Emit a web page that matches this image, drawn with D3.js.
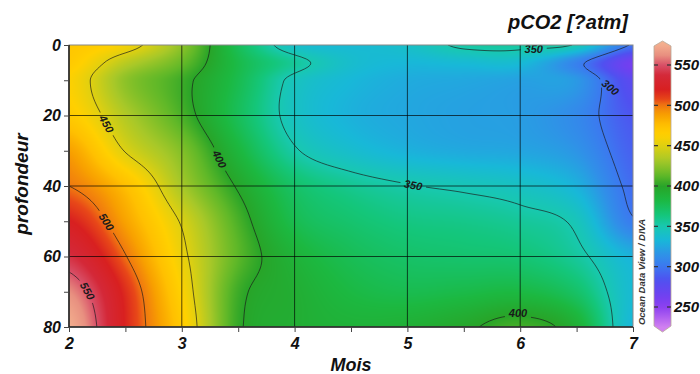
<!DOCTYPE html>
<html>
<head>
<meta charset="utf-8">
<script src="https://cdn.jsdelivr.net/npm/d3@7"></script>
<style>
  body { margin: 0; background: #fff; }
  svg text { font-family: "Liberation Sans", Arial, sans-serif; font-weight: bold; font-style: italic; }
</style>
</head>
<body>
<svg id="chart" width="700" height="374"></svg>
<script>
// grid: months across, depths down
const months = [2, 2.5, 3, 3.5, 4, 4.5, 5, 5.5, 6, 6.5, 7];
const depths = [0, 5, 10, 20, 30, 40, 50, 60, 70, 80];
const pco2 = [
  [470, 458, 425, 375, 340, 335, 340, 353, 354, 348, 298], // 0 m
  [468, 438, 415, 380, 356, 338, 333, 335, 335, 306, 262], // 5 m
  [462, 425, 405, 378, 345, 333, 327, 325, 322, 318, 275], // 10 m
  [468, 435, 408, 375, 343, 330, 325, 322, 320, 310, 285], // 20 m
  [488, 449, 422, 385, 352, 338, 330, 326, 324, 316, 290], // 30 m
  [500, 475, 432, 398, 370, 358, 351, 347, 342, 330, 295], // 40 m
  [520, 487, 448, 408, 378, 368, 362, 360, 356, 346, 302], // 50 m
  [540, 501, 455, 412, 388, 376, 370, 368, 366, 355, 330], // 60 m
  [562, 515, 462, 405, 392, 382, 378, 380, 382, 370, 335], // 70 m
  [575, 518, 468, 403, 392, 388, 390, 397, 406, 390, 332]  // 80 m
];
const contourLevels = [300, 350, 400, 450, 500, 550];
const colorTicks = [250, 300, 350, 400, 450, 500, 550];
const monthTicks = [2, 3, 4, 5, 6, 7];
const depthTicks = [0, 20, 40, 60, 80];

// where ODV put the contour labels (month, depth), some with a fixed angle
const contourLabels = [
  { v: 450, m: 2.30, d: 23 },
  { v: 400, m: 3.29, d: 33 },
  { v: 500, m: 2.34, d: 50 },
  { v: 550, m: 2.10, d: 71 },
  { v: 350, m: 5.05, d: 40 },
  { v: 350, m: 6.12, d: 1.2, angle: 0 },
  { v: 300, m: 6.80, d: 12, angle: 40 },
  { v: 400, m: 5.98, d: 76, angle: 0 }
];

// ODV-like palette
const palVals = [225, 237, 250, 264, 283, 300, 314, 333, 350, 364, 383, 400, 413, 432, 450, 463, 475, 488, 500, 507, 519, 537, 550, 562, 578];
const palCols = ["#d080f0", "#b060f0", "#8c40f0", "#7040f0", "#5050f0", "#3c78f0", "#3090e8", "#18b8d8", "#18c8b0",
  "#14c67a", "#1cb840", "#28a428", "#60b828", "#a8c828", "#e0d010", "#ffd000", "#ffc000", "#f8a000", "#f07810",
  "#e84818", "#d82020", "#d42838", "#d85068", "#e89080", "#f5b490"];
const color = d3.scaleLinear().domain(palVals).range(palCols).clamp(true);

const svg = d3.select("#chart");
const x0 = 69, x1 = 633, y0 = 45, y1 = 327;
const W = x1 - x0, H = y1 - y0;
const x = d3.scaleLinear().domain([2, 7]).range([x0, x1]);
const y = d3.scaleLinear().domain([0, 80]).range([y0, y1]);

// smooth field between grid nodes (Catmull-Rom)
const depthIdx = d3.scaleLinear().domain(depths).range(d3.range(depths.length)).clamp(true);
function cr(p0, p1, p2, p3, t) {
  return p1 + 0.5 * t * (p2 - p0 + t * (2 * p0 - 5 * p1 + 4 * p2 - p3 + t * (3 * (p1 - p2) + p3 - p0)));
}
function node(j, i) {
  j = Math.max(0, Math.min(depths.length - 1, j));
  i = Math.max(0, Math.min(months.length - 1, i));
  return pco2[j][i];
}
function field(m, d) {
  const fx = Math.max(0, Math.min(months.length - 1, (m - months[0]) / 0.5));
  const fy = depthIdx(d);
  const i = Math.min(months.length - 2, Math.floor(fx)), t = fx - i;
  const j = Math.min(depths.length - 2, Math.floor(fy)), u = fy - j;
  const rows = [-1, 0, 1, 2].map(k => cr(node(j + k, i - 1), node(j + k, i), node(j + k, i + 1), node(j + k, i + 2), t));
  return cr(rows[0], rows[1], rows[2], rows[3], u);
}
const fpx = (px, py) => field(x.invert(px), y.invert(py));

// raster of the field
const canvas = document.createElement("canvas");
canvas.width = W; canvas.height = H;
const ctx = canvas.getContext("2d");
const img = ctx.createImageData(W, H);
for (let py = 0; py < H; py++) {
  for (let px = 0; px < W; px++) {
    const c = d3.rgb(color(fpx(x0 + px + 0.5, y0 + py + 0.5)));
    const k = (py * W + px) * 4;
    img.data[k] = c.r; img.data[k + 1] = c.g; img.data[k + 2] = c.b; img.data[k + 3] = 255;
  }
}
ctx.putImageData(img, 0, 0);

const defs = svg.append("defs");
defs.append("clipPath").attr("id", "plotClip")
  .append("rect").attr("x", x0).attr("y", y0).attr("width", W).attr("height", H);

svg.append("image")
  .attr("x", x0).attr("y", y0).attr("width", W).attr("height", H)
  .attr("preserveAspectRatio", "none")
  .attr("href", canvas.toDataURL());

// grid lines
const grid = svg.append("g").attr("stroke", "#000").attr("stroke-opacity", 0.75).attr("stroke-width", 0.9);
grid.selectAll(".gx").data([3, 4, 5, 6]).join("line")
  .attr("x1", d => x(d)).attr("x2", d => x(d)).attr("y1", y0).attr("y2", y1);
grid.selectAll(".gy").data([20, 40, 60]).join("line")
  .attr("y1", d => y(d)).attr("y2", d => y(d)).attr("x1", x0).attr("x2", x1);

// contours on a finer sample grid
const nx = 283, ny = 142;
const vals = new Array(nx * ny);
for (let j = 0; j < ny; j++)
  for (let i = 0; i < nx; i++)
    vals[j * nx + i] = fpx(x0 + i * W / (nx - 1), y0 + j * H / (ny - 1));
const contours = d3.contours().size([nx, ny]).thresholds(contourLevels)(vals);
const proj = d3.geoTransform({
  point: function (cx, cy) {
    this.stream.point(x0 + (cx - 0.5) * W / (nx - 1), y0 + (cy - 0.5) * H / (ny - 1));
  }
});
const path = d3.geoPath(proj);

// put labels on the lines
function grad(px, py) {
  return [(fpx(px + 1, py) - fpx(px - 1, py)) / 2, (fpx(px, py + 1) - fpx(px, py - 1)) / 2];
}
const labels = contourLabels.map(l => {
  let px = x(l.m), py = y(l.d);
  if (l.angle === undefined) {
    for (let k = 0; k < 10; k++) {
      const g = grad(px, py), v = fpx(px, py);
      const g2 = g[0] * g[0] + g[1] * g[1];
      if (g2 < 1e-6) break;
      let s = (l.v - v) / g2;
      const len = Math.abs(s) * Math.sqrt(g2);
      if (len > 6) s *= 6 / len;
      px += s * g[0]; py += s * g[1];
    }
  }
  const g = grad(px, py);
  let a = Math.atan2(g[0], -g[1]) * 180 / Math.PI;
  if (a > 90) a -= 180;
  if (a < -90) a += 180;
  if (l.angle !== undefined) a = l.angle;
  return { v: l.v, px, py, a };
});

const mask = defs.append("mask").attr("id", "labelMask");
mask.append("rect").attr("x", 0).attr("y", 0).attr("width", 700).attr("height", 374).attr("fill", "#fff");
mask.selectAll("rect.cut").data(labels).join("rect")
  .attr("class", "cut")
  .attr("x", -13).attr("y", -6).attr("width", 26).attr("height", 12)
  .attr("fill", "#000")
  .attr("transform", d => `translate(${d.px},${d.py}) rotate(${d.a})`);

svg.append("g").attr("clip-path", "url(#plotClip)")
  .append("g").attr("mask", "url(#labelMask)")
  .selectAll("path").data(contours).join("path")
  .attr("d", path)
  .attr("fill", "none")
  .attr("stroke", "#1a1a1a")
  .attr("stroke-opacity", 0.85)
  .attr("stroke-width", 0.8);

svg.append("g").selectAll("text").data(labels).join("text")
  .attr("transform", d => `translate(${d.px},${d.py}) rotate(${d.a})`)
  .attr("text-anchor", "middle")
  .attr("dy", "0.36em")
  .attr("font-size", 11)
  .attr("fill", "#1a1a1a")
  .text(d => d.v);

// frame
svg.append("rect").attr("x", x0).attr("y", y0).attr("width", W).attr("height", H)
  .attr("fill", "none").attr("stroke", "#888").attr("stroke-width", 1);

// axes
const xAxis = svg.append("g").attr("transform", `translate(0,${y1})`)
  .call(d3.axisBottom(x).tickValues(d3.range(2, 7.01, 0.5))
    .tickFormat(d => monthTicks.includes(d) ? d : "").tickSize(5).tickPadding(6));
const yAxis = svg.append("g").attr("transform", `translate(${x0},0)`)
  .call(d3.axisLeft(y).tickValues(d3.range(0, 80.01, 10))
    .tickFormat(d => depthTicks.includes(d) ? d : "").tickSize(5).tickPadding(3));
[xAxis, yAxis].forEach(a => {
  a.select(".domain").attr("stroke", "#222").attr("stroke-width", 1.6);
  a.selectAll(".tick line").attr("stroke", "#444").attr("stroke-width", 1);
  a.selectAll("text").attr("font-size", 16).attr("fill", "#111")
    .attr("font-family", "Liberation Sans, Arial, sans-serif");
});
yAxis.select(".domain").attr("d", `M0,${y0}V${y1}`);
xAxis.select(".domain").attr("d", `M${x0},0H${x1}`);

// titles
svg.append("text").attr("x", 628).attr("y", 29).attr("text-anchor", "end")
  .attr("font-size", 20).attr("fill", "#111").text("pCO2 [?atm]");
svg.append("text").attr("transform", "translate(28,184) rotate(-90)").attr("text-anchor", "middle")
  .attr("font-size", 19).attr("fill", "#111").text("profondeur");
svg.append("text").attr("x", 351).attr("y", 371).attr("text-anchor", "middle")
  .attr("font-size", 18).attr("fill", "#111").text("Mois");
svg.append("text").attr("transform", "translate(644.5,272) rotate(-90)").attr("text-anchor", "middle")
  .attr("font-size", 9.5).attr("font-weight", "normal").attr("fill", "#333")
  .text("Ocean Data View / DIVA");

// colour bar
const cy = d3.scaleLinear().domain([250, 550]).range([307, 65]);
const cbL = 654, cbR = 671, cbTop = 41, cbBot = 332;
const cbMid = (cbL + cbR) / 2;
const grad1 = defs.append("linearGradient").attr("id", "cbGrad")
  .attr("gradientUnits", "userSpaceOnUse")
  .attr("x1", 0).attr("x2", 0).attr("y1", cbTop).attr("y2", cbBot);
grad1.selectAll("stop").data(d3.range(0, 1.0001, 1 / 60)).join("stop")
  .attr("offset", d => d)
  .attr("stop-color", d => color(cy.invert(cbTop + d * (cbBot - cbTop))));
svg.append("path")
  .attr("d", `M${cbL},${cbTop + 5}L${cbMid},${cbTop}L${cbR},${cbTop + 5}V${cbBot - 6}L${cbMid},${cbBot}L${cbL},${cbBot - 6}Z`)
  .attr("fill", "url(#cbGrad)")
  .attr("stroke", "#b8a898").attr("stroke-width", 0.8);
const cbt = svg.append("g").selectAll("g").data(colorTicks).join("g")
  .attr("transform", d => `translate(0,${cy(d)})`);
cbt.append("line").attr("x1", cbL).attr("x2", cbL + 4).attr("stroke", "#333").attr("stroke-width", 1.2);
cbt.append("line").attr("x1", cbR - 4).attr("x2", cbR).attr("stroke", "#333").attr("stroke-width", 1.2);
cbt.append("text").attr("x", 674).attr("dy", "0.36em")
  .attr("font-size", 15).attr("fill", "#111").text(d => d);
</script>
</body>
</html>
